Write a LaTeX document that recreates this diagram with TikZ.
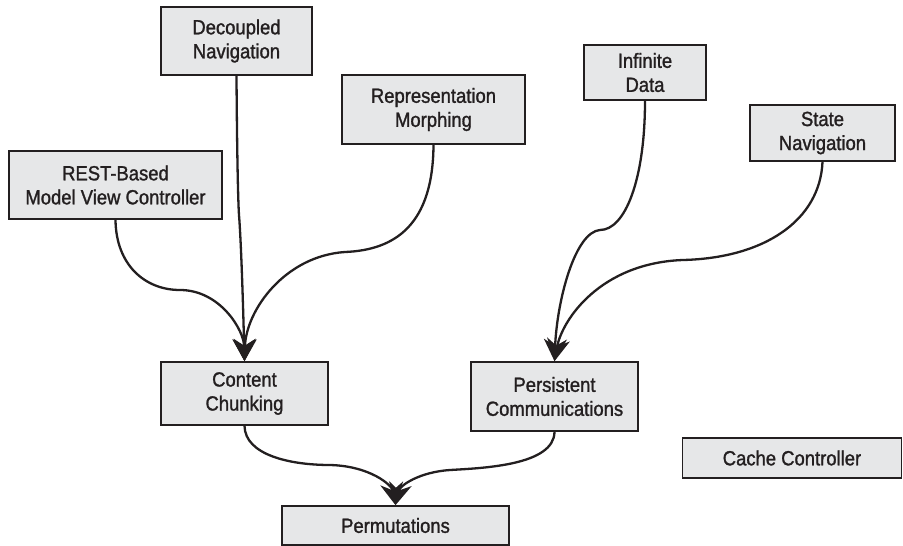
\documentclass[tikz,border=0pt]{standalone}
\usepackage{fontspec}
\setmainfont{Liberation Sans}[FakeStretch=0.9,FakeBold=1.3]
\usetikzlibrary{arrows.meta}
\definecolor{boxgrey}{HTML}{E6E7E8}
\definecolor{ink}{HTML}{231F20}
\tikzset{
  box/.style={draw=ink, line width=1.7pt, fill=boxgrey, align=center, inner sep=0pt,
    font=\fontsize{20.5}{24}\selectfont, text=ink},
  link/.style={draw=ink, line width=2.3pt, -{Stealth[length=22pt,width=23pt,inset=7pt]}}
}
\begin{document}
\begin{tikzpicture}[x=1pt,y=-1pt]
\useasboundingbox (0,0) rectangle (903,546);
\node[box, minimum width=151pt, minimum height=68pt] (dec) at (236.5,41) {Decoupled\\Navigation};
\node[box, minimum width=183pt, minimum height=69pt] (rep) at (433.5,109.5) {Representation\\Morphing};
\node[box, minimum width=213pt, minimum height=68pt] (rest) at (115.5,185) {REST-Based\\Model View Controller};
\node[box, minimum width=122pt, minimum height=55pt] (inf) at (645,72.5) {Infinite\\Data};
\node[box, minimum width=145pt, minimum height=56pt] (state) at (822.5,133) {State\\Navigation};
\node[box, minimum width=167pt, minimum height=63pt] (cc) at (244.5,393.5) {Content\\Chunking};
\node[box, minimum width=167pt, minimum height=69pt] (pc) at (554.5,396.5) {Persistent\\Communications};
\node[box, minimum width=227pt, minimum height=39pt] (perm) at (395.5,525.5) {Permutations};
\node[box, minimum width=219pt, minimum height=40pt] (cache) at (792,458) {Cache Controller};

\draw[link] (dec.south) .. controls (237,150) and (238,200) .. (239,215) .. controls (241,240) and (243,300) .. (cc.north);
\draw[link] (rest.south) .. controls (116,265) and (145,290) .. (180,290) .. controls (220,290) and (244,330) .. (cc.north);
\draw[link] (rep.south) .. controls (433,225) and (395,250) .. (345,252) .. controls (285,256) and (246,310) .. (cc.north);
\draw[link] (inf.south) .. controls (645,180) and (625,230) .. (600,230) .. controls (575,232) and (557,300) .. (pc.north);
\draw[link] (state.south) .. controls (820,220) and (765,258) .. (683,260) .. controls (600,263) and (562,320) .. (pc.north);
\draw[link] (cc.south) .. controls (245,455) and (290,465) .. (330,465) .. controls (370,466) and (392,485) .. (perm.north);
\draw[link] (pc.south) .. controls (554,465) and (485,468) .. (450,470) .. controls (420,472) and (400,485) .. (perm.north);
\end{tikzpicture}
\end{document}
